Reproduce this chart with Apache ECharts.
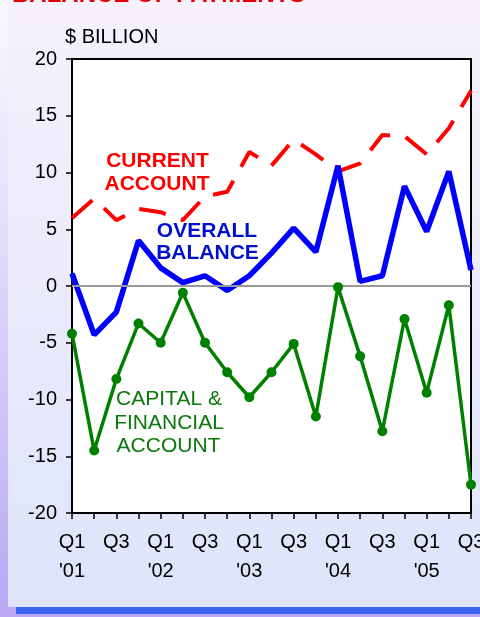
<!DOCTYPE html>
<html>
<head>
<meta charset="utf-8">
<script src="https://cdn.jsdelivr.net/npm/echarts@6/dist/echarts.min.js"></script>
<style>
body { margin: 0; }
#chart {
  width: 480px;
  height: 617px;
  background:
    linear-gradient(#3c64f4, #3c64f4) 16px 607px / 464px 7px no-repeat,
    linear-gradient(to bottom, #f6f1fd, #ebebfb 45%, #dde4fb) 8px 0 / 472px 607px no-repeat,
    linear-gradient(to bottom, #fbf9ff, #e2dbf9 40%, #b8a8f5);
}
</style>
</head>
<body>
<div id="chart"></div>
<script>
// quarters Q1 '01 .. Q3 '05
var categories = ["Q1 '01","Q2 '01","Q3 '01","Q4 '01",
  "Q1 '02","Q2 '02","Q3 '02","Q4 '02",
  "Q1 '03","Q2 '03","Q3 '03","Q4 '03",
  "Q1 '04","Q2 '04","Q3 '04","Q4 '04",
  "Q1 '05","Q2 '05","Q3 '05"];
// $ billion
var currentAccount = [6.0, 7.7, 5.8, 6.8, 6.5, 5.8, 7.9, 8.3, 11.8, 10.6, 12.9, 11.6, 10.1, 10.8, 13.3, 13.2, 11.6, 13.9, 17.2];
var overallBalance = [1.1, -4.3, -2.3, 4.0, 1.6, 0.3, 0.9, -0.4, 0.9, 2.9, 5.1, 3.0, 10.6, 0.4, 0.9, 8.8, 4.8, 10.1, 1.4];
var capitalAccount = [-4.2, -14.5, -8.2, -3.3, -5.0, -0.6, -5.0, -7.6, -9.8, -7.6, -5.1, -11.5, -0.1, -6.2, -12.8, -2.9, -9.4, -1.7, -17.5];
var yTicks = { min: -20, max: 20, step: 5 };

var FONT = "'Liberation Sans', Arial, sans-serif";
var myChart = echarts.init(document.getElementById('chart'));

function txt(s, x, y, color, weight, size, align) {
  return {
    type: 'text', x: x, y: y, z: 100,
    style: {
      text: s, fill: color,
      font: weight + ' ' + size + 'px ' + FONT,
      textAlign: align || 'center', textVerticalAlign: 'middle'
    }
  };
}

myChart.setOption({
  animation: false,
  backgroundColor: 'transparent',
  grid: {
    left: 72, right: 9, top: 59, bottom: 104,
    outerBoundsMode: 'none',
    show: true, backgroundColor: '#fff',
    borderColor: '#000', borderWidth: 2
  },
  xAxis: {
    type: 'category',
    data: categories,
    boundaryGap: false,
    axisLine: { onZero: false, lineStyle: { color: '#000', width: 2 } },
    axisTick: { show: true, interval: 0, length: 6, lineStyle: { color: '#000', width: 1.5 } },
    axisLabel: {
      interval: 1, margin: 15, hideOverlap: false,
      color: '#000', fontFamily: FONT, fontSize: 20, lineHeight: 29,
      formatter: function (v) {
        var p = v.split(' ');
        return p[0] === 'Q1' ? p[0] + '\n' + p[1] : p[0];
      }
    }
  },
  yAxis: {
    type: 'value',
    min: yTicks.min, max: yTicks.max, interval: yTicks.step,
    splitLine: { show: false },
    axisLine: { show: true, lineStyle: { color: '#000', width: 2 } },
    axisTick: { show: true, length: 6, lineStyle: { color: '#000', width: 1.5 } },
    axisLabel: { margin: 15, color: '#000', fontFamily: FONT, fontSize: 20 }
  },
  graphic: [
    txt('BALANCE OF PAYMENTS', 12, -4.6, '#e00000', 'bold', 24, 'left'),
    txt('$ BILLION', 65, 37, '#000', 'normal', 20, 'left'),
    txt('CURRENT', 157.5, 161, '#ff0000', 'bold', 21),
    txt('ACCOUNT', 157, 184, '#ff0000', 'bold', 21),
    txt('OVERALL', 207, 231.5, '#0010cc', 'bold', 21),
    txt('BALANCE', 207.5, 253.5, '#0010cc', 'bold', 21),
    txt('CAPITAL &', 169, 399.5, '#0a780a', 'normal', 21),
    txt('FINANCIAL', 169, 423, '#0a780a', 'normal', 21),
    txt('ACCOUNT', 168.5, 446.5, '#0a780a', 'normal', 21)
  ],
  series: [
    {
      // zero line
      type: 'line', data: [], z: 1, silent: true,
      markLine: {
        symbol: 'none', silent: true, label: { show: false },
        lineStyle: { color: '#999', width: 2, type: 'solid' },
        data: [{ yAxis: 0 }]
      }
    },
    {
      name: 'Current account', type: 'line', data: currentAccount, z: 3,
      showSymbol: false,
      lineStyle: { color: '#ff0000', width: 4, type: [27, 16] }
    },
    {
      name: 'Overall balance', type: 'line', data: overallBalance, z: 4,
      showSymbol: false,
      lineStyle: { color: '#0000ff', width: 5.5 }
    },
    {
      name: 'Capital & financial account', type: 'line', data: capitalAccount, z: 5,
      symbol: 'circle', symbolSize: 10,
      itemStyle: { color: '#008000' },
      lineStyle: { color: '#008000', width: 3.5 }
    }
  ]
});
</script>
</body>
</html>
